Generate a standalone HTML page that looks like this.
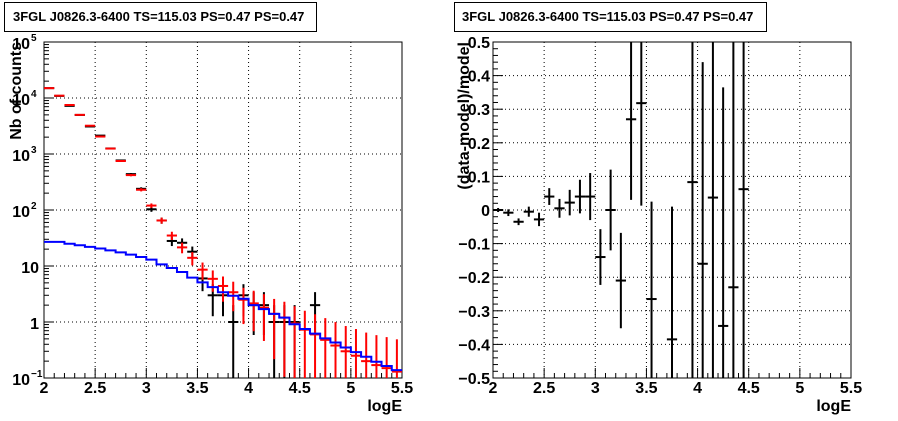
<!DOCTYPE html>
<html><head><meta charset="utf-8"><style>
body{margin:0;background:#fff;}
svg{display:block;font-family:"Liberation Sans",Arial,sans-serif;font-weight:bold;}
</style></head><body>
<svg id="c" width="898" height="421" viewBox="0 0 898 421" xmlns="http://www.w3.org/2000/svg">
<rect x="0" y="0" width="898" height="421" fill="#fff"/>
<g><rect x="4.5" y="2.5" width="312" height="29" fill="#fff" stroke="#000"/><text x="13" y="21" font-size="13">3FGL J0826.3-6400 TS=115.03 PS=0.47 PS=0.47</text></g>
<g><rect x="454.5" y="2.5" width="312" height="29" fill="#fff" stroke="#000"/><text x="462" y="21" font-size="13">3FGL J0826.3-6400 TS=115.03 PS=0.47 PS=0.47</text></g>
<g id="L"></g>
<g id="R"></g>
</svg>
<script>
const bins=[2.05,2.15,2.25,2.35,2.45,2.55,2.65,2.75,2.85,2.95,3.05,3.15,3.25,3.35,3.45,3.55,3.65,3.75,3.85,3.95,4.05,4.15,4.25,4.35,4.45,4.55,4.65,4.75,4.85,4.95,5.05,5.15,5.25,5.35,5.45];
const modelCounts=[15000,11000,7500,5000,3200,2050,1250,750,420,230,120,65,35,21.5,14,8.6,5.9,4.4,3.4,2.5,2.15,1.8,1.4,1.2,0.94,0.73,0.6,0.48,0.38,0.3,0.25,0.2,0.17,0.15,0.13];
const dataCounts=[15000,10900,7240,4980,3100,2130,1256,767,437,239,103,65,28,26,18,6,3,3,1,3,2,2,1,1,1,0,2,0,0,0,0,0,0,0,0];
const bkgModel=[27,27,25,23.5,22,20.5,19,17.5,16,14.5,13,10.7,9.2,7.8,6.2,5.1,4.2,3.4,2.95,2.6,2.0,1.7,1.4,1.2,0.91,0.75,0.62,0.51,0.43,0.35,0.29,0.24,0.195,0.164,0.138];
const resX=[2.05,2.15,2.25,2.35,2.45,2.55,2.65,2.75,2.85,2.95,3.05,3.15,3.25,3.35,3.45,3.55,3.75,3.95,4.05,4.15,4.25,4.35,4.45];
const resY=[0,-0.008,-0.035,-0.005,-0.028,0.04,0.005,0.022,0.04,0.04,-0.14,0,-0.21,0.27,0.318,-0.265,-0.385,0.083,-0.16,0.037,-0.345,-0.23,0.062];
const resErr=[0.006,0.01,0.01,0.015,0.02,0.025,0.028,0.038,0.05,0.07,0.083,0.12,0.142,0.24,0.305,0.29,0.395,1.2,0.6,1.2,0.71,1.2,1.2];
const xTicks=["2","2.5","3","3.5","4","4.5","5","5.5"];
const resTicks=["−0.5","−0.4","−0.3","−0.2","−0.1","0","0.1","0.2","0.3","0.4","0.5"];
const NS="http://www.w3.org/2000/svg";
function mk(p,t,a){const e=document.createElementNS(NS,t);for(const k in a)e.setAttribute(k,a[k]);p.appendChild(e);return e;}
function ln(p,x1,y1,x2,y2,c,w,dash){const e=mk(p,'line',{x1:x1,y1:y1,x2:x2,y2:y2,stroke:c,'stroke-width':w});if(dash)e.setAttribute('stroke-dasharray',dash);return e;}
const TOP=42,BOT=378;
// ---- left panel
const L=document.getElementById('L');
const lx0=44,lx1=402;
const LX=v=>lx0+(v-2)/3.5*(lx1-lx0);
const LY=v=>BOT-(Math.log10(v)+1)*(BOT-TOP)/6;
const clipY=y=>Math.max(TOP,Math.min(BOT,y));
for(let i=1;i<7;i++){const x=LX(2+i*0.5);const g=ln(L,x,TOP,x,BOT,'#000',1,'1,3');

}
for(let d=0;d<6;d++){const y=LY(Math.pow(10,d));const g=ln(L,lx0,y,lx1,y,'#000',1,'1,3');

}
mk(L,'rect',{x:lx0,y:TOP,width:lx1-lx0,height:BOT-TOP,fill:'none',stroke:'#000','stroke-width':1});
for(let i=0;i<=35;i++){const x=LX(2+i*0.1);ln(L,x,BOT,x,BOT-(i%5==0?10:5),'#000',1);}
for(let d=-1;d<5;d++)for(let m=1;m<10;m++){const y=LY(m*Math.pow(10,d));ln(L,lx0,y,lx0+(m==1?10:5),y,'#000',1);}
xTicks.forEach((t,i)=>{const e=mk(L,'text',{x:LX(2+i*0.5),y:393,'font-size':16,'text-anchor':'middle'});e.textContent=t;

});
for(let d=-1;d<=5;d++){const y=LY(Math.pow(10,d));const e=mk(L,'text',{x:d==0||d==1?39:30,y:y+7,'font-size':16,'text-anchor':'end'});
if(d==0){e.textContent='1';}else if(d==1){e.textContent='10';}else{e.textContent='10';const s=mk(L,'text',{x:31,y:y-1,'font-size':10});s.textContent=d==-1?'−1':String(d);}

}
const xl=mk(L,'text',{x:402,y:411,'font-size':16,'text-anchor':'end'});xl.textContent='logE';


const yl=mk(L,'text',{x:0,y:0,'font-size':16,'text-anchor':'end',transform:'translate(21,42) rotate(-90)'});yl.textContent='Nb of counts';


bins.forEach((b,i)=>{const c=dataCounts[i];if(c<=0)return;const g=mk(L,'g',{});


const e=Math.sqrt(c);const y=LY(c);
if(y<=BOT&&y>=TOP)ln(g,LX(b-0.05),y,LX(b+0.05),y,'#000',2);
const lo=c-e>0?LY(c-e):BOT;ln(g,LX(b),clipY(LY(c+e)),LX(b),clipY(lo),'#000',2);});
bins.forEach((b,i)=>{const c=modelCounts[i];const g=mk(L,'g',{});


const e=Math.sqrt(c);const y=LY(c);
ln(g,LX(b-0.05),y,LX(b+0.05),y,'#f00',2);
const lo=c-e>0?LY(c-e):BOT;ln(g,LX(b),clipY(LY(c+e)),LX(b),clipY(lo),'#f00',2);});
let d='';bins.forEach((b,i)=>{const y=LY(bkgModel[i]);d+=(i==0?'M':'L')+LX(b-0.05)+','+y+'L'+LX(b+0.05)+','+y;});
const bl=mk(L,'path',{d:d,fill:'none',stroke:'#0000ff','stroke-width':2});


// ---- right panel
const R=document.getElementById('R');
const rx0=493,rx1=851;
const RX=v=>rx0+(v-2)/3.5*(rx1-rx0);
const RY=v=>BOT-(v+0.5)*(BOT-TOP);
for(let i=1;i<7;i++){const x=RX(2+i*0.5);const g=ln(R,x,TOP,x,BOT,'#000',1,'1,3');

}
for(let i=1;i<10;i++){const y=RY(-0.5+i*0.1);const g=ln(R,rx0,y,rx1,y,'#000',1,'1,3');

}
mk(R,'rect',{x:rx0,y:TOP,width:rx1-rx0,height:BOT-TOP,fill:'none',stroke:'#000','stroke-width':1});
for(let i=0;i<=35;i++){const x=RX(2+i*0.1);ln(R,x,BOT,x,BOT-(i%5==0?10:5),'#000',1);}
for(let i=0;i<=50;i++){const y=RY(-0.5+i*0.02);ln(R,rx0,y,rx0+(i%5==0?10:5),y,'#000',1);}
xTicks.forEach((t,i)=>{const e=mk(R,'text',{x:RX(2+i*0.5),y:393,'font-size':16,'text-anchor':'middle'});e.textContent=t;

});
resTicks.forEach((t,i)=>{const e=mk(R,'text',{x:490,y:RY(-0.5+i*0.1)+6,'font-size':16,'text-anchor':'end'});e.textContent=t;

});
const xr=mk(R,'text',{x:851,y:411,'font-size':16,'text-anchor':'end'});xr.textContent='logE';


const yr=mk(R,'text',{x:0,y:0,'font-size':16,'text-anchor':'end',transform:'translate(469,42) rotate(-90)'});yr.textContent='(data-model)/model';


const rclip=v=>Math.max(TOP,Math.min(BOT,RY(v)));
resX.forEach((b,i)=>{const g=mk(R,'g',{});


const v=resY[i],e=resErr[i];
ln(g,RX(b-0.05),RY(v),RX(b+0.05),RY(v),'#000',2);
ln(g,RX(b),rclip(v+e),RX(b),rclip(v-e),'#000',2);});
</script>
</body></html>
